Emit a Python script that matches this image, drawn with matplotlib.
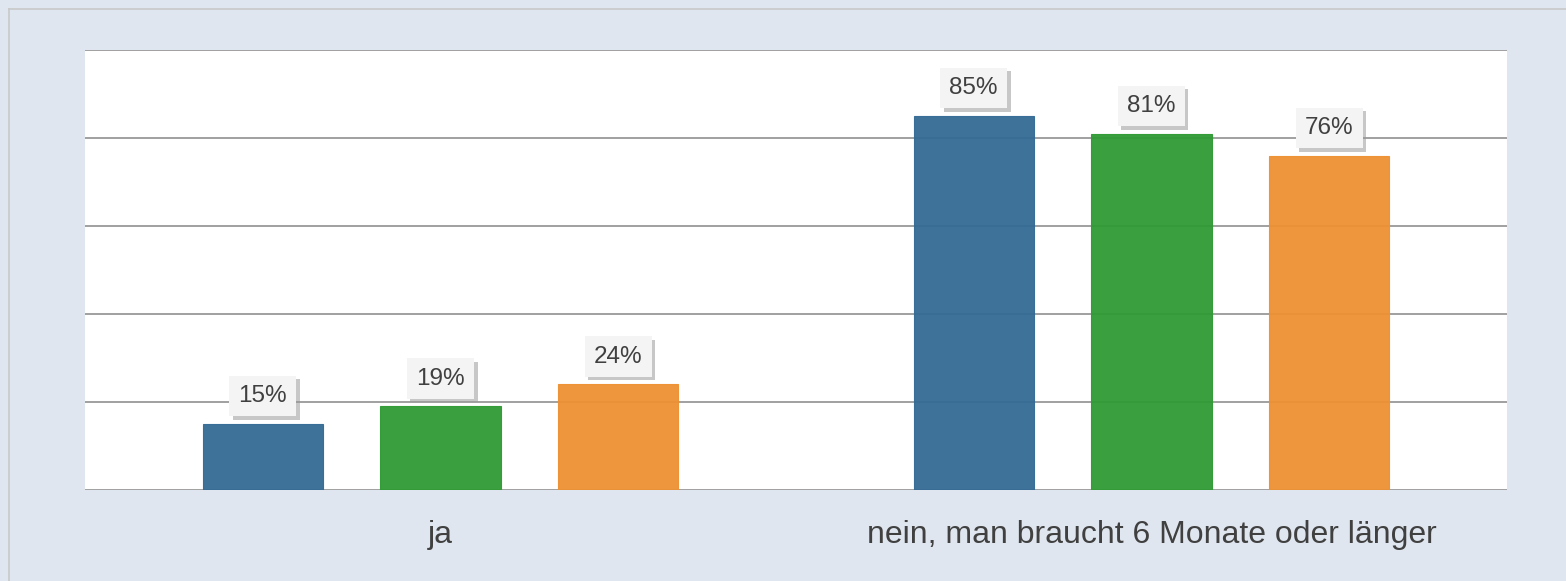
import matplotlib
matplotlib.use("Agg")
import matplotlib.pyplot as plt
import matplotlib.patheffects as pe
from matplotlib.lines import Line2D
import numpy as np

categories = ["ja", "nein, man braucht 6 Monate oder länger"]
series_a = [15, 85]
series_b = [19, 81]
series_c = [24, 76]
colors = ["#336a94", "#2f9a33", "#ee9132"]

W, H = 1566, 581
fig = plt.figure(figsize=(W / 100, H / 100), dpi=100)
fig.patch.set_facecolor("#dfe6ef")
plt.rcParams["font.family"] = ["Liberation Sans", "DejaVu Sans"]

# thin frame of the outer panel (only top and left edges are visible)
fx, fy = 8.5 / W, 1 - 8.5 / H
fig.lines.append(Line2D([fx, 1.0], [fy, fy], transform=fig.transFigure, color="#c8c8c8", linewidth=1.2))
fig.lines.append(Line2D([fx, fx], [0.0, fy], transform=fig.transFigure, color="#c8c8c8", linewidth=1.2))

ax = fig.add_axes([85 / W, 1 - 490 / H, (1507 - 85) / W, (490 - 50) / H])
ax.set_facecolor("white")
ax.set_xlim(-0.5, 1.5)
ax.set_ylim(0, 100)
for side in ax.spines.values():
    side.set_visible(False)
ax.set_yticks(np.arange(0, 101, 20))
ax.yaxis.grid(True, color="#a0a0a0", linewidth=1.4)
ax.set_axisbelow(True)
ax.tick_params(axis="y", left=False, labelleft=False)
ax.tick_params(axis="x", bottom=False, labelsize=23, labelcolor="#404040", pad=18)
x = np.arange(len(categories))
ax.set_xticks(x)
ax.set_xticklabels(categories)

width = 0.169
for i, (vals, col) in enumerate(zip([series_a, series_b, series_c], colors)):
    bars = ax.bar(x + (i - 1) * 0.25, vals, width, color=col, alpha=0.95,
                  edgecolor=col, linewidth=0.8, zorder=3)
    for b, v in zip(bars, vals):
        t = ax.annotate(f"{v}%", (b.get_x() + b.get_width() / 2, v),
                        xytext=(0, 20), textcoords="offset points",
                        ha="center", va="center", fontsize=17.5, color="#404040", zorder=5,
                        bbox=dict(boxstyle="square,pad=0.38", facecolor="#f4f4f4",
                                  edgecolor="none"))
        t.get_bbox_patch().set_path_effects(
            [pe.SimplePatchShadow(offset=(2.5, -2.5), shadow_rgbFace="#999999", alpha=0.55),
             pe.Normal()])

fig.savefig("out.png", dpi=100, facecolor=fig.get_facecolor())
